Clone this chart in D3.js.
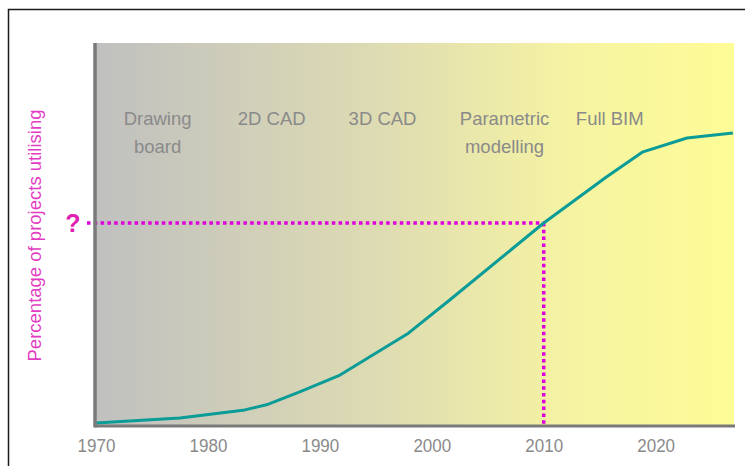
<!DOCTYPE html>
<html>
<head>
<meta charset="utf-8">
<script src="https://cdn.jsdelivr.net/npm/d3@7"></script>
<style>
  html, body { margin: 0; padding: 0; background: #fff; }
  svg { display: block; }
  text { font-family: "Liberation Sans", Arial, sans-serif; }
</style>
</head>
<body>
<svg id="chart" width="745" height="466"></svg>
<script>
// ---- data ----
const years  = [1970, 1977.5, 1983.3, 1985.4, 1988.2, 1991.8, 1997.8, 2001.6, 2010, 2015.6, 2018.8, 2022.8, 2026.9];
const shares = [0.8,  2.1,    4.2,    5.7,    8.9,    13.3,   24.0,   32.9,   53,   65.0,   71.5,   75.2,   76.5];
const tickYears = [1970, 1980, 1990, 2000, 2010, 2020];
const phaseNames = [["Drawing", "board"], ["2D CAD"], ["3D CAD"], ["Parametric", "modelling"], ["Full BIM"]];
const phaseYears = [1975.5, 1985.7, 1995.6, 2006.5, 2015.9];
const markYear = 2010;
const markShare = 53;
const yTitle = "Percentage of projects utilising";

// ---- layout ----
const svg = d3.select("#chart");
const mLeft = 96, mRight = 734, mTop = 43, mBottom = 426;
const x = d3.scaleLinear().domain([1970, 2027]).range([mLeft, mRight]);
const y = d3.scaleLinear().domain([0, 100]).range([mBottom, mTop]);

// outer frame
svg.append("rect")
  .attr("x", 8.5).attr("y", 9.5).attr("width", 800).attr("height", 500)
  .attr("fill", "none").attr("stroke", "#1a1a1a").attr("stroke-width", 1.5);

// gradient background
const defs = svg.append("defs");
const grad = defs.append("linearGradient").attr("id", "bg")
  .attr("x1", "0%").attr("x2", "100%").attr("y1", "0%").attr("y2", "0%");
grad.append("stop").attr("offset", "0%").attr("stop-color", "#c0c0c0");
grad.append("stop").attr("offset", "45%").attr("stop-color", "#dedcb2");
grad.append("stop").attr("offset", "75%").attr("stop-color", "#f6f4a2");
grad.append("stop").attr("offset", "100%").attr("stop-color", "#fefc96");

svg.append("rect")
  .attr("x", x(1970) - 1).attr("y", y(100))
  .attr("width", x(2027) - x(1970) + 1).attr("height", y(0) - y(100))
  .attr("fill", "url(#bg)");

// phase labels
phaseNames.forEach((lines, i) => {
  const t = svg.append("text")
    .attr("x", x(phaseYears[i])).attr("y", 125)
    .attr("text-anchor", "middle")
    .attr("fill", "#8a8a8a")
    .attr("font-size", "18.5px");
  lines.forEach((ln, j) => {
    t.append("tspan").attr("x", x(phaseYears[i])).attr("dy", j === 0 ? 0 : 27.5).text(ln);
  });
});

// dotted guide lines
const dotColor = "#dd00dd";
svg.append("line")
  .attr("x1", 87).attr("x2", x(markYear))
  .attr("y1", y(markShare)).attr("y2", y(markShare))
  .attr("stroke", dotColor).attr("stroke-width", 3.5)
  .attr("stroke-dasharray", "3.5,3.3");
svg.append("line")
  .attr("x1", x(markYear)).attr("x2", x(markYear))
  .attr("y1", y(markShare)).attr("y2", y(0))
  .attr("stroke", dotColor).attr("stroke-width", 3.5)
  .attr("stroke-dasharray", "3.5,3.3");

// curve
const data = years.map((yr, i) => [yr, shares[i]]);
svg.append("path")
  .datum(data)
  .attr("fill", "none")
  .attr("stroke", "#0b9c98")
  .attr("stroke-width", 3)
  .attr("stroke-linejoin", "round")
  .attr("d", d3.line().x(d => x(d[0])).y(d => y(d[1])).curve(d3.curveLinear));

// axes
const xAxis = d3.axisBottom(x).tickValues(tickYears).tickFormat(d3.format("d")).tickSize(0).tickPadding(0);
const gx = svg.append("g").attr("transform", `translate(0,${mBottom})`).call(xAxis);
gx.select(".domain").remove();
gx.selectAll("text")
  .attr("fill", "#8a8a8a")
  .attr("font-size", "17px")
  .attr("font-family", "'Liberation Sans', Arial, sans-serif")
  .attr("dy", null)
  .attr("y", 0)
  .attr("transform", `translate(0,26) scale(1,1.13)`);

svg.append("line")
  .attr("x1", mLeft - 1).attr("x2", mRight + 1)
  .attr("y1", mBottom).attr("y2", mBottom)
  .attr("stroke", "#7a7a7a").attr("stroke-width", 3);
svg.append("line")
  .attr("x1", mLeft - 1).attr("x2", mLeft - 1)
  .attr("y1", mTop).attr("y2", mBottom + 1.5)
  .attr("stroke", "#7a7a7a").attr("stroke-width", 3.5);

// y title
svg.append("text")
  .attr("transform", `translate(41,235.5) rotate(-90)`)
  .attr("text-anchor", "middle")
  .attr("fill", "#e23cc2")
  .attr("font-size", "18.5px")
  .text(yTitle);

// question mark
svg.append("text")
  .attr("x", 73).attr("y", 232)
  .attr("text-anchor", "middle")
  .attr("fill", "#e020b0")
  .attr("font-weight", "bold")
  .attr("font-size", "25px")
  .text("?");
</script>
</body>
</html>
